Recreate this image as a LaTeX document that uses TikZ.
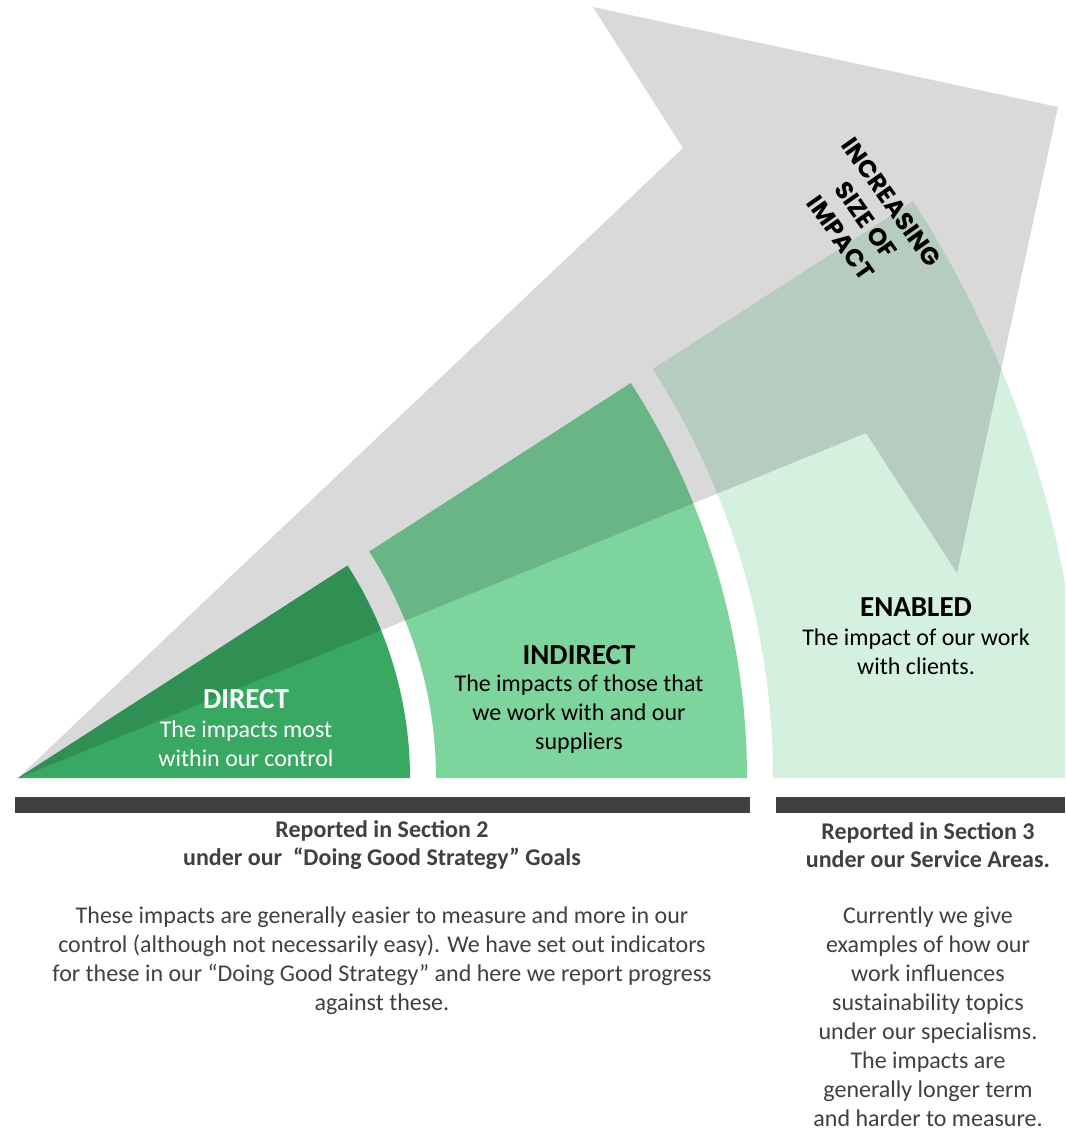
\documentclass[tikz,border=0pt]{standalone}
\usepackage{fontspec}
\setmainfont{Carlito}
\newfontfamily\geo{Poppins}
\usetikzlibrary{calc}
\definecolor{arrowgrey}{HTML}{D9D9D9}
\definecolor{gdirect}{HTML}{38A862}
\definecolor{gindirect}{HTML}{7DD49D}
\definecolor{genabled}{HTML}{D4F0DF}
\colorlet{gdirectov}{gdirect!85.1!black}
\colorlet{gindirectov}{gindirect!85.1!black}
\colorlet{genabledov}{genabled!85.1!black}
\definecolor{barcol}{HTML}{404040}
\definecolor{txtcol}{HTML}{404040}
\tikzset{
  ttl/.style={font=\fontsize{29}{32}\selectfont\bfseries, inner sep=0pt},
  sbody/.style={font=\fontsize{24}{28.6}\selectfont, align=center, inner sep=0pt},
  rep/.style={font=\fontsize{24}{28}\selectfont\bfseries, text=txtcol, align=center, inner sep=0pt},
  para/.style={font=\fontsize{24}{29}\selectfont, text=txtcol, align=center, inner sep=0pt},
  bar/.style={fill=barcol, draw=none}
}
\newcommand\arrowpath{(18,-778) -- (683,-148) -- (593,-7) -- (1058,-107) -- (957,-573) -- (866,-433) -- cycle}
\newcommand\ang{32.8}
\newcommand\ringpath[2]{([shift={(0:#1)}]C) -- ([shift={(0:#2)}]C) arc[start angle=0,end angle=\ang,radius=#2] -- ([shift={(\ang:#1)}]C) arc[start angle=\ang,end angle=0,radius=#1] -- cycle}
\newcommand\piepath{(C) -- ([shift={(0:392)}]C) arc[start angle=0,end angle=\ang,radius=392] -- cycle}
\begin{document}
\begin{tikzpicture}[x=1pt,y=1pt]
\useasboundingbox (0,0) rectangle (1065,-1129);
\clip (0,0) rectangle (1065,-1129);
\fill[white] (0,0) rectangle (1065,-1129);
\coordinate (C) at (18,-778);
% grey arrow
\fill[arrowgrey] \arrowpath;
% sectors
\fill[gdirect] \piepath;
\fill[gindirect] \ringpath{418}{729};
\fill[genabled] \ringpath{755}{1065};
\begin{scope}
  \clip \arrowpath;
  \fill[gdirectov] \piepath;
  \fill[gindirectov] \ringpath{418}{729};
  \fill[genabledov] \ringpath{755}{1065};
\end{scope}
% label on arrow
\node[font=\geo\bfseries\fontsize{24.5}{31}\selectfont, rotate=-54.7, align=center, inner sep=0pt] (incr) at (866,-220) {INCREASING\\SIZE OF\\IMPACT};
% sector texts
\node[ttl, text=white] (dtitle) at (246,-699) {DIRECT};
\node[sbody, text=white] (dbody) at (246,-744) {The impacts most\\within our control};
\node[ttl, text=black] (ititle) at (579,-655) {INDIRECT};
\node[sbody, text=black] (ibody) at (579,-714) {The impacts of those that\\we work with and our\\suppliers};
\node[ttl, text=black] (etitle) at (916,-607) {ENABLED};
\node[sbody, text=black] (ebody) at (916,-652) {The impact of our work\\with clients.};
% bars
\fill[bar] (15,-797) rectangle (750,-813);
\fill[bar] (776,-797) rectangle (1065,-813);
% bottom texts
\node[rep] (rep2) at (382,-845) {Reported in Section 2\\under our~~``Doing Good Strategy'' Goals};
\node[rep] (rep3) at (928,-845) {Reported in Section 3\\under our Service Areas.};
\node[para] (para2) at (382,-961) {These impacts are generally easier to measure and more in our\\control (although not necessarily easy). We have set out indicators\\for these in our ``Doing Good Strategy'' and here we report progress\\against these.};
\node[para] (para3) at (928,-1017) {Currently we give\\examples of how our\\work influences\\sustainability topics\\under our specialisms.\\The impacts are\\generally longer term\\and harder to measure.};
\end{tikzpicture}
\end{document}
